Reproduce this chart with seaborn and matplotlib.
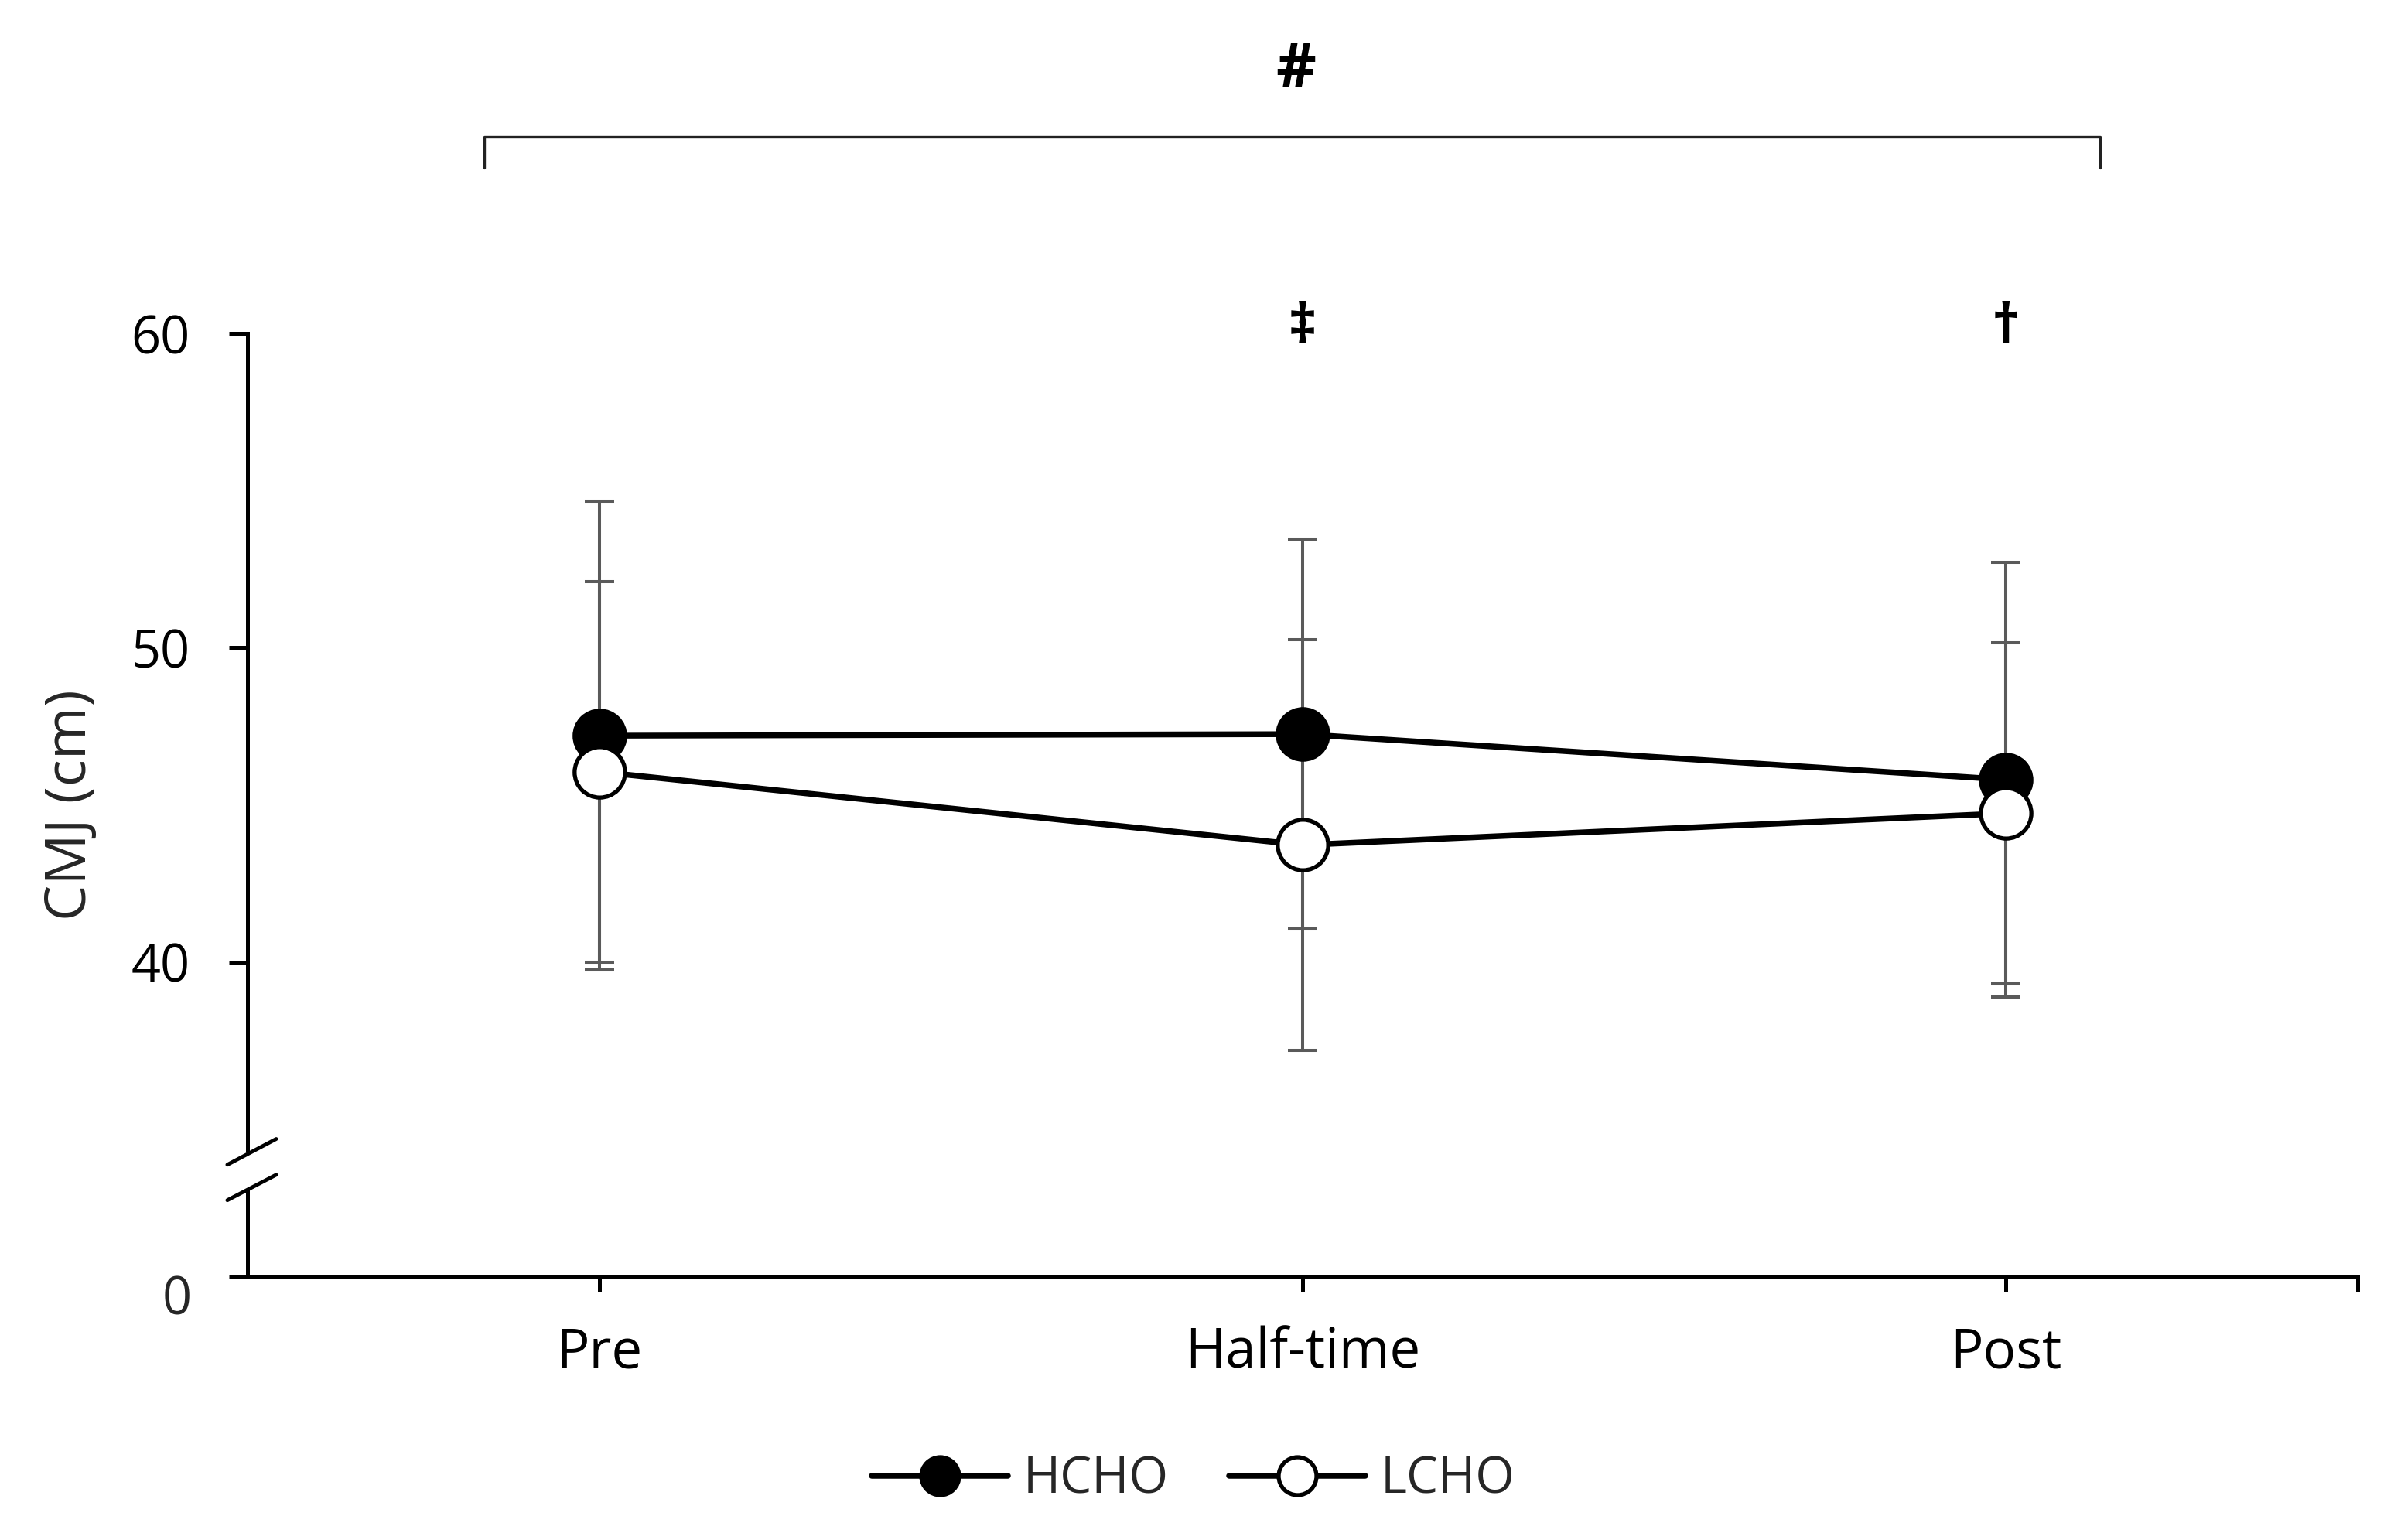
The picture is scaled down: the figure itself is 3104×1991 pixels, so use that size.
import matplotlib
matplotlib.use("Agg")
import matplotlib.pyplot as plt
import seaborn as sns
import pandas as pd

# ---- data ----
timepoints = ["Pre", "Half-time", "Post"]
hcho_mean = [47.2, 47.25, 45.8]
hcho_sd = [7.47, 6.2, 6.92]
lcho_mean = [46.05, 43.72, 44.73]
lcho_sd = [6.05, 6.53, 5.43]
y_ticks = [30, 40, 50, 60]
y_tick_labels = ["", "40", "50", "60"]
zero_label = "0"
sig_time = ["‡", "†"]           # at Half-time, Post
overall_sig = "#"

sns.set_theme(style="white")
plt.rcParams["font.family"] = ["Open Sans", "DejaVu Sans"]

fig = plt.figure(figsize=(31.04, 19.91), dpi=100)
ax = fig.add_axes([0.1031, 0.1715, 0.8789, 0.6118])

x_pos = list(range(len(timepoints)))
df_h = pd.DataFrame({"x": x_pos, "y": hcho_mean})
df_l = pd.DataFrame({"x": x_pos, "y": lcho_mean})

ax.errorbar(x_pos, hcho_mean, yerr=hcho_sd, fmt="none", ecolor="#5a5a5a",
            elinewidth=2.9, capsize=13.7, capthick=2.9, zorder=1)
ax.errorbar(x_pos, lcho_mean, yerr=lcho_sd, fmt="none", ecolor="#5a5a5a",
            elinewidth=2.9, capsize=13.7, capthick=2.9, zorder=1)

sns.lineplot(data=df_h, x="x", y="y", ax=ax, color="black", lw=5.4,
             marker="o", markersize=47, markerfacecolor="black",
             markeredgecolor="black", markeredgewidth=3.8, label="HCHO", zorder=3)
sns.lineplot(data=df_l, x="x", y="y", ax=ax, color="black", lw=5.4,
             marker="o", markersize=47, markerfacecolor="white",
             markeredgecolor="black", markeredgewidth=3.8, label="LCHO", zorder=4)

ax.set_xlim(-0.5, 2.5)
ax.set_ylim(30, 60)
ax.set_xticks(x_pos + [2.5])
ax.set_xticklabels(timepoints + [""], fontsize=51)
ax.set_yticks(y_ticks)
ax.set_yticklabels(y_tick_labels, fontsize=48)
ax.set_xlabel("")
ax.set_ylabel("CMJ (cm)", fontsize=53)
ax.yaxis.set_label_coords(-0.07, 0.5)

for s in ["top", "right"]:
    ax.spines[s].set_visible(False)
for s in ["left", "bottom"]:
    ax.spines[s].set_linewidth(3.6)
    ax.spines[s].set_color("black")
ax.tick_params(axis="y", left=True, direction="out", length=17.3, width=3.6, pad=36, colors="black")
ax.tick_params(axis="x", bottom=True, direction="out", length=14.4, width=3.6, pad=32, colors="black")

# zero label for the broken axis (placed slightly lower)
ax.annotate(zero_label, xy=(-0.5, 30), xycoords="data", xytext=(-52, -23),
            textcoords="offset points", ha="right", va="center", fontsize=48,
            annotation_clip=False)

# axis break
ax.plot([-0.5, -0.5], [32.74, 33.92], color="white", lw=9, zorder=6, clip_on=False,
        solid_capstyle="butt")
ax.plot([-0.5287, -0.4593], [33.54, 34.36], color="black", lw=3.5, zorder=7, clip_on=False)
ax.plot([-0.5287, -0.4593], [32.41, 33.22], color="black", lw=3.5, zorder=7, clip_on=False)

# significance symbols
for i, sym in enumerate(sig_time):
    ax.text(x_pos[i + 1], 60.15, sym, ha="center", va="center", fontsize=52,
            fontweight="bold", color="black", clip_on=False)

ax.plot([-0.163, -0.163, 2.134, 2.134], [65.28, 66.27, 66.27, 65.28],
        color="#222222", lw=2.4, clip_on=False)
ax.text(0.99, 68.36, overall_sig, ha="center", va="center", fontsize=58,
        fontweight="bold", color="black", clip_on=False)

leg = ax.legend(loc="center", bbox_to_anchor=(0.497, 0.0387), bbox_transform=fig.transFigure,
                ncol=2, frameon=False, fontsize=47, markerscale=0.75, handlelength=2.7,
                handletextpad=0.3, columnspacing=1.2)

fig.savefig("out.png", dpi=100, facecolor="white")
